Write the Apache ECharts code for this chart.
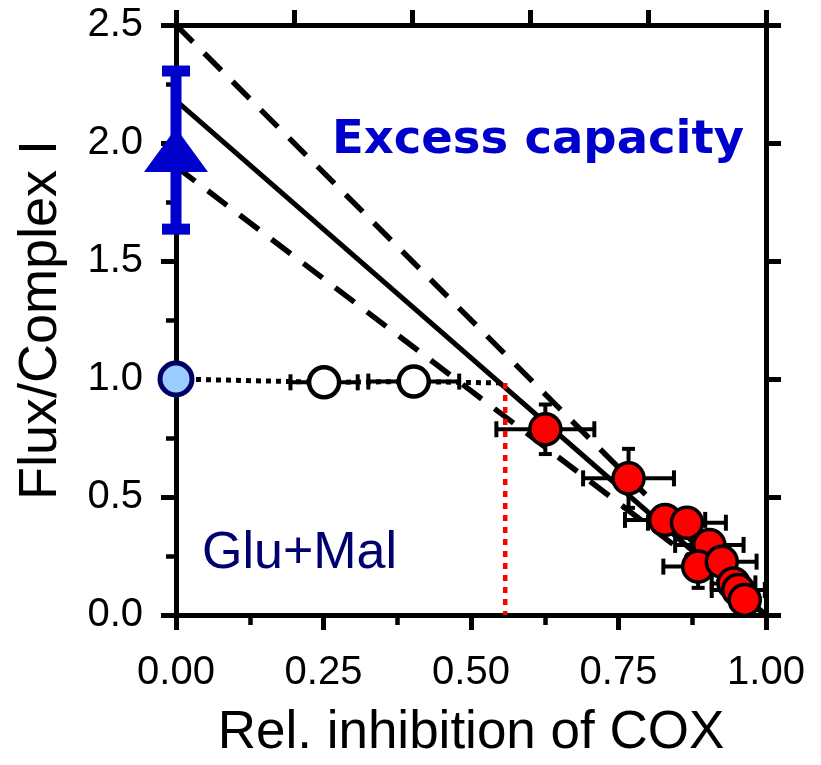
<!DOCTYPE html>
<html>
<head>
<meta charset="utf-8">
<script src="https://cdn.jsdelivr.net/npm/echarts@6/dist/echarts.min.js"></script>
<style>
html,body{margin:0;padding:0;background:#fff;}
#c{width:821px;height:765px;}
</style>
</head>
<body>
<div id="c"></div>
<script>
// ---- data ----
const redX    = [0.626, 0.767, 0.829, 0.866, 0.904, 0.885, 0.925, 0.945, 0.953, 0.964];
const redY    = [0.787, 0.579, 0.403, 0.391, 0.297, 0.205, 0.226, 0.134, 0.106, 0.064];
const redXErr = [0.083, 0.077, 0.068, 0.066, 0.058, 0.059, 0.059, 0.037, 0.045, 0.020];
const redYErr = [0.105, 0.125, 0.030, 0.030, 0.030, 0.090, 0.040, 0.030, 0.040, 0.030];

const openX    = [0.251, 0.403];
const openY    = [0.986, 0.989];
const openXErr = [0.057, 0.077];

const ctrlX = [0];
const ctrlY = [1.0];

const maxX    = [0];
const maxY    = [1.97];
const maxYErr = [0.335];

const dottedX = [0, 0.251, 0.403, 0.558];
const dottedY = [1.0, 0.986, 0.989, 0.983];

const thresholdX = [0.558, 0.558];
const thresholdY = [0.983, 0];

const fitX   = [0, 1];
const fitY   = [2.18, 0];
const upperY = [2.5, 0];
const lowerY = [1.9, 0];

const xTickLabels = ['0.00', '0.25', '0.50', '0.75', '1.00'];
const yTickLabels = ['0.0', '0.5', '1.0', '1.5', '2.0', '2.5'];

// ---- helpers ----
const zip = (a, b) => a.map((v, i) => [v, b[i]]);
const zip4 = (a, b, c, d) => a.map((v, i) => [v, b[i], c[i], d[i]]);

function errRender(color, lw, capX, capY) {
  return function (params, api) {
    const x = api.value(0), y = api.value(1), xe = api.value(2), ye = api.value(3);
    const ch = [];
    const st = { stroke: color, lineWidth: lw, lineCap: 'butt' };
    if (xe > 0) {
      const a = api.coord([x - xe, y]), b = api.coord([x + xe, y]);
      ch.push({ type: 'line', shape: { x1: a[0], y1: a[1], x2: b[0], y2: b[1] }, style: st });
      ch.push({ type: 'line', shape: { x1: a[0], y1: a[1] - capX / 2, x2: a[0], y2: a[1] + capX / 2 }, style: st });
      ch.push({ type: 'line', shape: { x1: b[0], y1: b[1] - capX / 2, x2: b[0], y2: b[1] + capX / 2 }, style: st });
    }
    if (ye > 0) {
      const a = api.coord([x, y - ye]), b = api.coord([x, y + ye]);
      ch.push({ type: 'line', shape: { x1: a[0], y1: a[1], x2: b[0], y2: b[1] }, style: st });
      ch.push({ type: 'line', shape: { x1: a[0] - capY / 2, y1: a[1], x2: a[0] + capY / 2, y2: a[1] }, style: st });
      ch.push({ type: 'line', shape: { x1: b[0] - capY / 2, y1: b[1], x2: b[0] + capY / 2, y2: b[1] }, style: st });
    }
    return { type: 'group', children: ch };
  };
}

const FONT = "'Liberation Sans', Arial, sans-serif";
const chart = echarts.init(document.getElementById('c'), null, { renderer: 'canvas' });

const axisCommon = {
  type: 'value', min: 0, splitLine: { show: false },
  axisLine: { show: true, onZero: false, lineStyle: { color: '#000', width: 5 } },
  axisTick: { show: true, inside: false, length: 15, lineStyle: { color: '#000', width: 5 } }
};

chart.setOption({
  animation: false,
  backgroundColor: '#fff',
  grid: { left: 176, top: 25, width: 590, height: 590, containLabel: false },
  xAxis: [
    Object.assign({}, axisCommon, {
      position: 'bottom', max: 1, interval: 0.25,
      name: 'Rel. inhibition of COX', nameLocation: 'middle', nameGap: 92,
      nameTextStyle: { fontFamily: FONT, fontSize: 53, color: '#000' },
      minorTick: { show: true, splitNumber: 2, length: 10, lineStyle: { color: '#000', width: 4.5 } },
      axisLabel: { margin: 38, fontFamily: FONT, fontSize: 40, color: '#000',
        formatter: v => xTickLabels[Math.round(v / 0.25)] }
    }),
    Object.assign({}, axisCommon, {
      position: 'top', max: 1, interval: 0.2,
      axisLabel: { show: false }
    })
  ],
  yAxis: [
    Object.assign({}, axisCommon, {
      position: 'left', max: 2.5, interval: 0.5,
      name: 'Flux/Complex I', nameLocation: 'middle', nameGap: 108, nameRotate: 90,
      nameTextStyle: { fontFamily: FONT, fontSize: 54, color: '#000' },
      minorTick: { show: true, splitNumber: 2, length: 10, lineStyle: { color: '#000', width: 4.5 } },
      axisLabel: { margin: 33, fontFamily: FONT, fontSize: 40, color: '#000',
        formatter: v => yTickLabels[Math.round(v / 0.5)] }
    }),
    Object.assign({}, axisCommon, {
      position: 'right', max: 2.5, interval: 0.5,
      axisLabel: { show: false }
    })
  ],
  graphic: [
    { type: 'text', left: 332, top: 117, z: 100,
      style: { text: 'Excess capacity', font: "bold 46.5px 'DejaVu Sans', Verdana, sans-serif", fill: '#0000CC' } },
    { type: 'text', left: 202, top: 528, z: 100,
      style: { text: 'Glu+Mal', font: "52px 'Liberation Sans', Arial, sans-serif", fill: '#000070' } }
  ],
  series: [
    { type: 'custom', name: 'redErr', renderItem: errRender('#000', 4, 16, 13),
      data: zip4(redX, redY, redXErr, redYErr), z: 3, clip: false },
    { type: 'custom', name: 'openErr', renderItem: errRender('#000', 4, 16, 13),
      data: zip4(openX, openY, openXErr, openX.map(() => 0)), z: 3, clip: false },
    { type: 'line', name: 'fit', data: zip(fitX, fitY), symbol: 'none', z: 4,
      lineStyle: { color: '#000', width: 5 } },
    { type: 'line', name: 'upper', data: zip(fitX, upperY), symbol: 'none', z: 4,
      lineStyle: { color: '#000', width: 5.5, type: [24, 16], cap: 'butt' } },
    { type: 'line', name: 'lower', data: zip(fitX, lowerY), symbol: 'none', z: 4,
      lineStyle: { color: '#000', width: 5.5, type: [24, 16], cap: 'butt' } },
    { type: 'line', name: 'dotted', data: zip(dottedX, dottedY), symbol: 'none', z: 4,
      lineStyle: { color: '#000', width: 5, type: [5, 5], cap: 'butt' } },
    { type: 'line', name: 'threshold', data: zip(thresholdX, thresholdY), symbol: 'none', z: 4,
      lineStyle: { color: '#FF0000', width: 4.5, type: [6, 6], cap: 'butt' } },
    { type: 'scatter', name: 'red', data: zip(redX, redY), symbol: 'circle', symbolSize: 31, z: 6,
      itemStyle: { color: '#FF0000', borderColor: '#000', borderWidth: 3.5, opacity: 1 } },
    { type: 'scatter', name: 'open', data: zip(openX, openY), symbol: 'circle', symbolSize: 30, z: 6,
      itemStyle: { color: '#FFFFFF', borderColor: '#000', borderWidth: 4.5, opacity: 1 } },
    { type: 'scatter', name: 'ctrl', data: zip(ctrlX, ctrlY), symbol: 'circle', symbolSize: 32, z: 6, clip: false,
      itemStyle: { color: '#99CCFF', borderColor: '#000066', borderWidth: 5, opacity: 1 } },
    { type: 'custom', name: 'maxErr', renderItem: errRender('#0000CC', 11, 12, 28),
      data: zip4(maxX, maxY, maxX.map(() => 0), maxYErr), z: 7, clip: false },
    { type: 'scatter', name: 'max', data: zip(maxX, maxY), symbol: 'triangle', symbolSize: [64, 44], z: 8, clip: false,
      itemStyle: { color: '#0000CC', opacity: 1 } }
  ]
});
</script>
</body>
</html>
